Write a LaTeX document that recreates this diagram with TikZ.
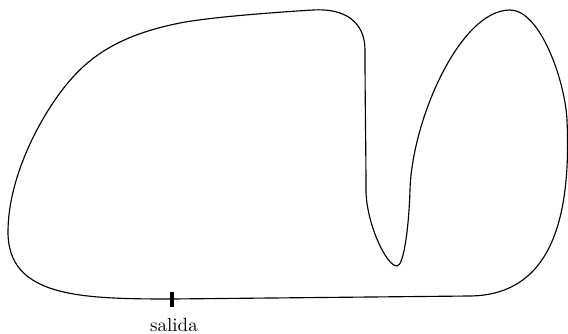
\documentclass[tikz,border=0pt]{standalone}
\usepackage{tikz}
\usetikzlibrary{positioning}

\begin{document}
\begin{tikzpicture}[x=0.0185cm, y=-0.0185cm, track/.style={semithick}, marca/.style={ultra thick}]
    \useasboundingbox (0,0) rectangle (568,334);
    \coordinate (salida) at (172,299);
    \draw[track] (salida)
        .. controls (80,299) and (8,297) .. (8,232)
        .. controls (8,175) and (43,110) .. (73,77)
        .. controls (100,47) and (135,32) .. (180,23)
        .. controls (210,17) and (280,12) .. (313,10)
        .. controls (345,8) and (365,22) .. (365,50)
        .. controls (365,100) and (366,150) .. (366,190)
        .. controls (366,222) and (386,266) .. (397,266)
        .. controls (404,266) and (409,225) .. (410,190)
        .. controls (412,120) and (460,10) .. (510,10)
        .. controls (540,10) and (565,80) .. (567,120)
        .. controls (572,230) and (545,295) .. (470,296)
        -- cycle;
    \coordinate (salida-a) at (172,292);
    \coordinate (salida-b) at (172,307);
    \draw[marca] (salida-a) -- (salida-b);
    \node (etiqueta) at (174,325) {salida};
\end{tikzpicture}
\end{document}
